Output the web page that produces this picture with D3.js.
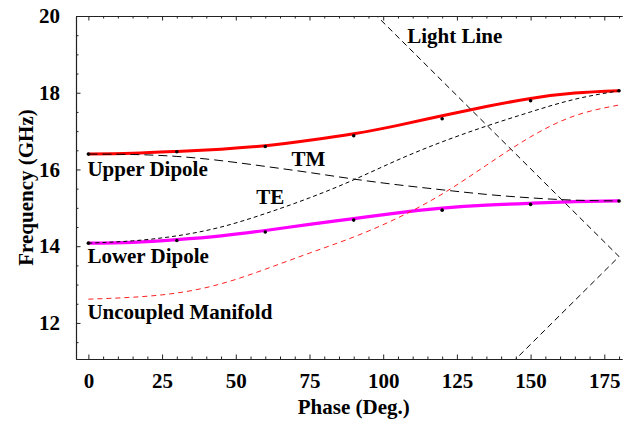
<!DOCTYPE html>
<html>
<head>
<meta charset="utf-8">
<script src="https://cdn.jsdelivr.net/npm/d3@7"></script>
<style>
  body { margin: 0; background: #fff; }
  svg text { font-family: "Liberation Serif", "Times New Roman", serif; font-weight: bold; }
</style>
</head>
<body>
<div id="chart"></div>
<script>
// phase samples (deg) shared by the curves
const phase = [0, 15, 30, 45, 60, 75, 90, 105, 120, 135, 150, 165, 180];

// fitted dispersion curves (GHz)
const upperDipole = [16.40, 16.42, 16.47, 16.53, 16.62, 16.76, 16.93, 17.15, 17.40, 17.64, 17.85, 17.99, 18.05];
const lowerDipole = [14.08, 14.10, 14.17, 14.27, 14.41, 14.57, 14.72, 14.87, 14.99, 15.07, 15.12, 15.16, 15.18];
const tmMode      = [16.40, 16.39, 16.34, 16.23, 16.08, 15.92, 15.75, 15.60, 15.47, 15.35, 15.26, 15.20, 15.18];
const teMode      = [14.08, 14.14, 14.27, 14.50, 14.85, 15.26, 15.73, 16.25, 16.72, 17.13, 17.50, 17.83, 18.05];
const uncoupled   = [12.62, 12.67, 12.78, 13.02, 13.40, 13.82, 14.24, 14.74, 15.36, 16.11, 16.85, 17.40, 17.68];

// simulated points
const dotPhase  = [0, 30, 60, 90, 120, 150, 180];
const upperDots = [16.40, 16.46, 16.60, 16.88, 17.32, 17.79, 18.05];
const lowerDots = [14.08, 14.15, 14.37, 14.68, 14.94, 15.09, 15.18];

// light line (folded at 180 deg)
const lightPhase = [80, 180, 140];
const lightFreq  = [21.36, 13.73, 10.68];

// annotations: [text, phase, freq]
const labels = [
  ["Upper Dipole", 0, 15.84],
  ["Lower Dipole", 0, 13.56],
  ["Uncoupled Manifold", 0, 12.10],
  ["TM", 69.2, 16.10],
  ["TE", 57.3, 15.09],
  ["Light Line", 108.5, 19.29]
];

const xTicks = [0, 25, 50, 75, 100, 125, 150, 175];
const yTicks = [12, 14, 16, 18, 20];

const W = 631, H = 422;
const margin = {top: 16, right: 9, bottom: 63, left: 76};
const width = W - margin.left - margin.right,
      height = H - margin.top - margin.bottom;

const svg = d3.select("#chart").append("svg")
    .attr("width", W).attr("height", H);

const g = svg.append("g")
    .attr("transform", `translate(${margin.left},${margin.top})`);

const x = d3.scaleLinear().domain([-4.2, 181]).range([0, width]);
const y = d3.scaleLinear().domain([11.06, 20]).range([height, 0]);

g.append("clipPath").attr("id", "clip")
  .append("rect").attr("width", width).attr("height", height);

const plot = g.append("g").attr("clip-path", "url(#clip)");

const line = d3.line()
    .x(d => x(d[0]))
    .y(d => y(d[1]))
    .curve(d3.curveNatural);

const zipped = vals => phase.map((p, i) => [p, vals[i]]);

// thick solid curves
plot.append("path").datum(zipped(upperDipole))
    .attr("d", line).attr("fill", "none")
    .attr("stroke", "#ff0000").attr("stroke-width", 3);
plot.append("path").datum(zipped(lowerDipole))
    .attr("d", line).attr("fill", "none")
    .attr("stroke", "#ff00ff").attr("stroke-width", 3.2);

// dashed curves
const dashed = [
  {vals: uncoupled, color: "#ff2020", dash: "5,4"},
  {vals: teMode, color: "#000", dash: "4,3"},
  {vals: tmMode, color: "#000", dash: "9,5"}
];
dashed.forEach(s => {
  plot.append("path").datum(zipped(s.vals))
      .attr("d", line).attr("fill", "none")
      .attr("stroke", s.color).attr("stroke-width", 1)
      .attr("stroke-dasharray", s.dash);
});

// light line
plot.append("path")
    .datum(lightPhase.map((p, i) => [p, lightFreq[i]]))
    .attr("d", d3.line().x(d => x(d[0])).y(d => y(d[1])))
    .attr("fill", "none").attr("stroke", "#000")
    .attr("stroke-width", 1).attr("stroke-dasharray", "6,4");

// dots
[upperDots, lowerDots].forEach(vals => {
  plot.selectAll(null).data(dotPhase.map((p, i) => [p, vals[i]]))
    .join("circle")
      .attr("cx", d => x(d[0])).attr("cy", d => y(d[1]))
      .attr("r", 1.8).attr("fill", "#000");
});

// axes (frame: left, bottom, top)
const axisColor = "#222";
const xMinor = d3.range(5, 181, 5).filter(v => v % 25 !== 0);
const yMinor = d3.range(11.5, 20, 0.5).filter(v => v % 2 !== 0);

const xAxis = g.append("g").attr("transform", `translate(0,${height})`)
    .call(d3.axisBottom(x).tickValues(xTicks).tickSize(-4.5).tickPadding(14).tickSizeOuter(0));
g.append("g").attr("transform", `translate(0,${height})`)
    .call(d3.axisBottom(x).tickValues(xMinor).tickSize(-2.5).tickFormat("").tickSizeOuter(0));
g.append("g")
    .call(d3.axisTop(x).tickValues(xTicks).tickSize(-4.5).tickFormat("").tickSizeOuter(0));
g.append("g")
    .call(d3.axisTop(x).tickValues(xMinor).tickSize(-2.5).tickFormat("").tickSizeOuter(0));
g.append("g")
    .call(d3.axisLeft(y).tickValues(yTicks).tickSize(-4.5).tickPadding(16).tickSizeOuter(0));
g.append("g")
    .call(d3.axisLeft(y).tickValues(yMinor).tickSize(-2.5).tickFormat("").tickSizeOuter(0));

g.selectAll(".domain").attr("stroke", axisColor).attr("stroke-width", 1.1);
g.selectAll(".tick line").attr("stroke", axisColor);
g.selectAll(".tick text").attr("fill", "#000").style("font-size", "21px");
xAxis.selectAll(".tick text").attr("dy", "0.71em");

// axis titles
g.append("text")
    .attr("x", x(90)).attr("y", height + 55)
    .attr("text-anchor", "middle").style("font-size", "21px")
    .text("Phase (Deg.)");
g.append("text")
    .attr("transform", `translate(${-43},${height / 2}) rotate(-90)`)
    .attr("text-anchor", "middle").style("font-size", "21px")
    .text("Frequency (GHz)");

// annotations
g.selectAll(".ann").data(labels).join("text")
    .attr("class", "ann")
    .attr("x", d => x(d[1]) - 1).attr("y", d => y(d[2]))
    .style("font-size", "21px")
    .text(d => d[0]);
</script>
</body>
</html>
